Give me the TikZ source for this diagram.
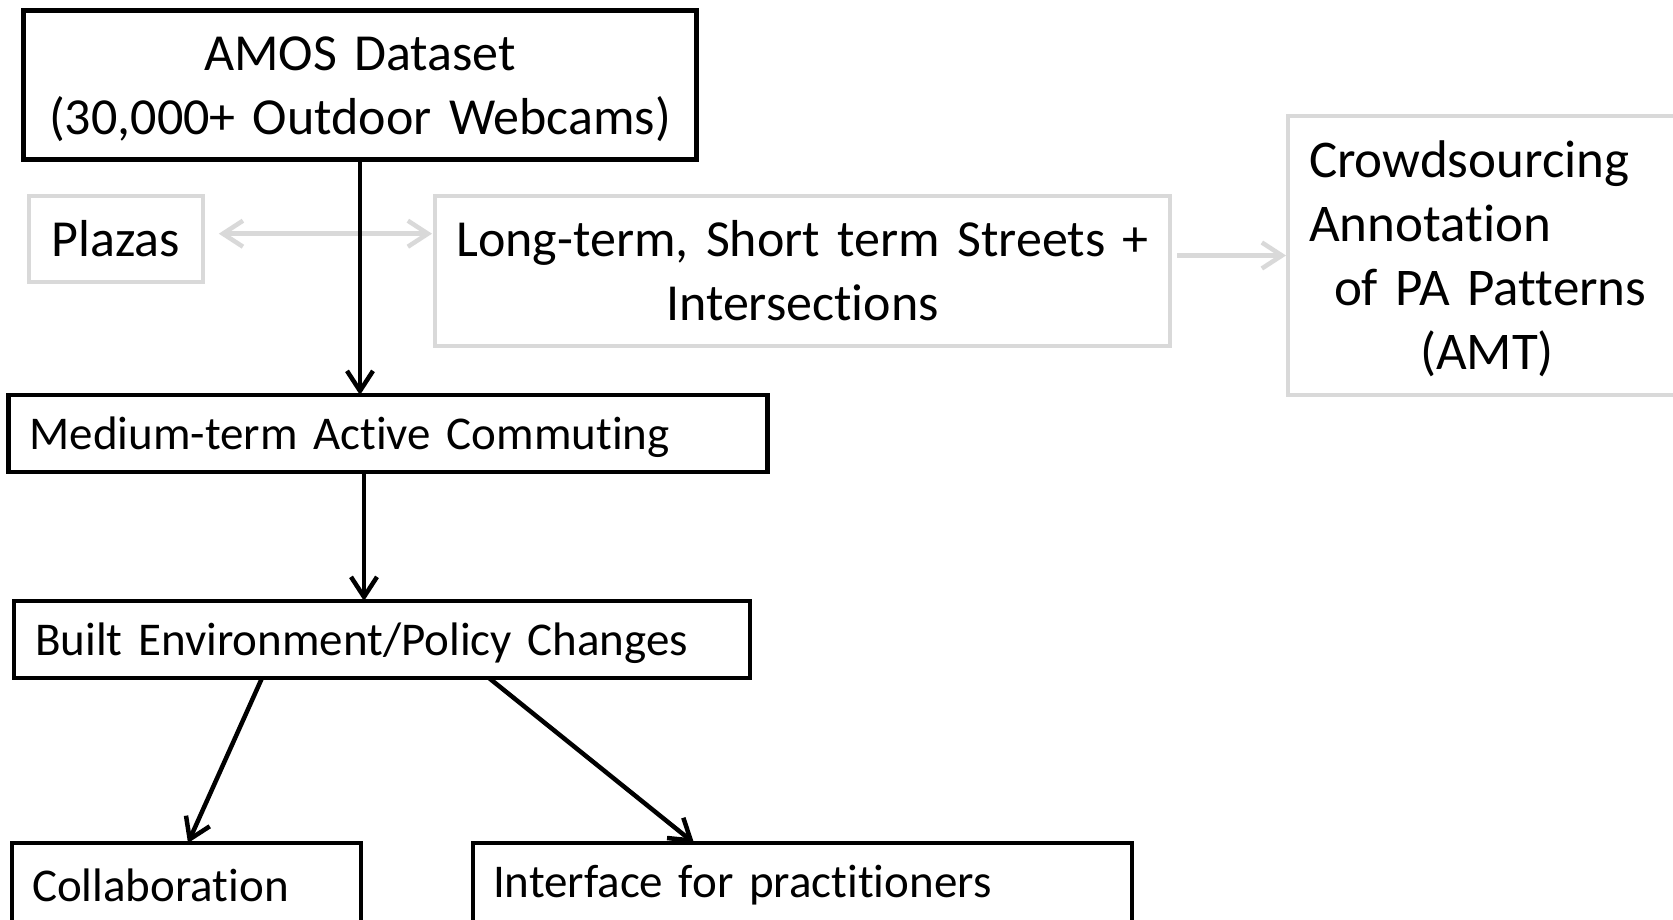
\documentclass[tikz,border=0pt]{standalone}
\usepackage{fontspec}
\setmainfont{Carlito}[Ligatures={NoCommon}]
\usetikzlibrary{arrows.meta}
\definecolor{lightgr}{RGB}{217,217,217}
\frenchspacing
\begin{document}
\begin{tikzpicture}[x=1pt,y=-1pt,
  every node/.style={font=\fontsize{52}{64}\selectfont, inner ysep=0pt, outer sep=0pt},
  small/.style={font=\fontsize{47}{58}\selectfont},
  blk/.style={draw=black, line width=4.5pt},
  gry/.style={draw=lightgr, line width=4.5pt},
  barrow/.style={draw=black, line width=4.5pt, -{Straight Barb[length=20pt,width=26pt]}},
  garrow/.style={draw=lightgr, line width=4.5pt, -{Straight Barb[length=20pt,width=26pt]}},
]
\useasboundingbox (0,0) rectangle (1673,919);
\fill[white] (0,0) rectangle (1673,919);
\begin{scope}
\clip (0,0) rectangle (1673,919);
\node[blk, anchor=north west, minimum height=149pt, text width=633pt, inner xsep=20pt, align=center] (amos) at (23.5,10.7) {\rule{0pt}{42pt}AMOS Dataset\\(30,000+ Outdoor Webcams)};
\node[gry, anchor=north west, minimum height=86pt, text width=154pt, inner xsep=10pt, align=center] (plazas) at (28.8,196) {Plazas};
\node[gry, anchor=north west, minimum height=150pt, text width=715pt, inner xsep=10pt, align=center] (long) at (435,196) {Long-term, Short term Streets +\\Intersections};
\node[gry, anchor=north west, minimum height=279pt, text width=380pt, inner xsep=21pt, align=left, font=\fontsize{53}{64}\selectfont] (crowd) at (1288,116) {\rule{0pt}{44pt}Crowdsourcing\\Annotation\\\hspace*{25pt}of PA Patterns\\\hspace*{111pt}(AMT)};
\node[blk, small, anchor=north west, minimum height=77pt, text width=717pt, inner xsep=21pt, align=left] (medium) at (8.5,395) {\rule{0pt}{40pt}Medium-term Active Commuting};
\node[blk, small, anchor=north west, minimum height=77pt, text width=694pt, inner xsep=21pt, align=left] (built) at (14,601) {\rule{0pt}{40pt}Built Environment/Policy Changes};
\node[blk, small, anchor=north west, minimum height=80pt, text width=309pt, inner xsep=20pt, align=left] (collab) at (12,843) {\rule{0pt}{37pt}Collaboration};
\node[blk, small, anchor=north west, minimum height=80pt, text width=619pt, inner xsep=20pt, align=left] (iface) at (473,843) {\rule{0pt}{37pt}Interface for practitioners};

\coordinate (cross) at ([yshift=-74pt]amos.south);
\draw[garrow] (cross) -- ([xshift=16pt]plazas.east |- cross);
\draw[garrow] (cross) -- ([xshift=-3pt]long.west |- cross);
\draw[garrow] ([xshift=7pt]long.east |- crowd.west) -- ([xshift=-2pt]crowd.west);

\draw[barrow] (amos.south) -- (amos.south |- medium.north);
\draw[barrow] ([xshift=-24pt]medium.south) -- ([xshift=-24pt]medium.south |- built.north);
\draw[barrow] ([xshift=248pt]built.south west) -- ([xshift=176pt]collab.north west);
\draw[barrow] ([xshift=475pt]built.south west) -- ([xshift=221pt]iface.north west);
\end{scope}
\end{tikzpicture}
\end{document}
